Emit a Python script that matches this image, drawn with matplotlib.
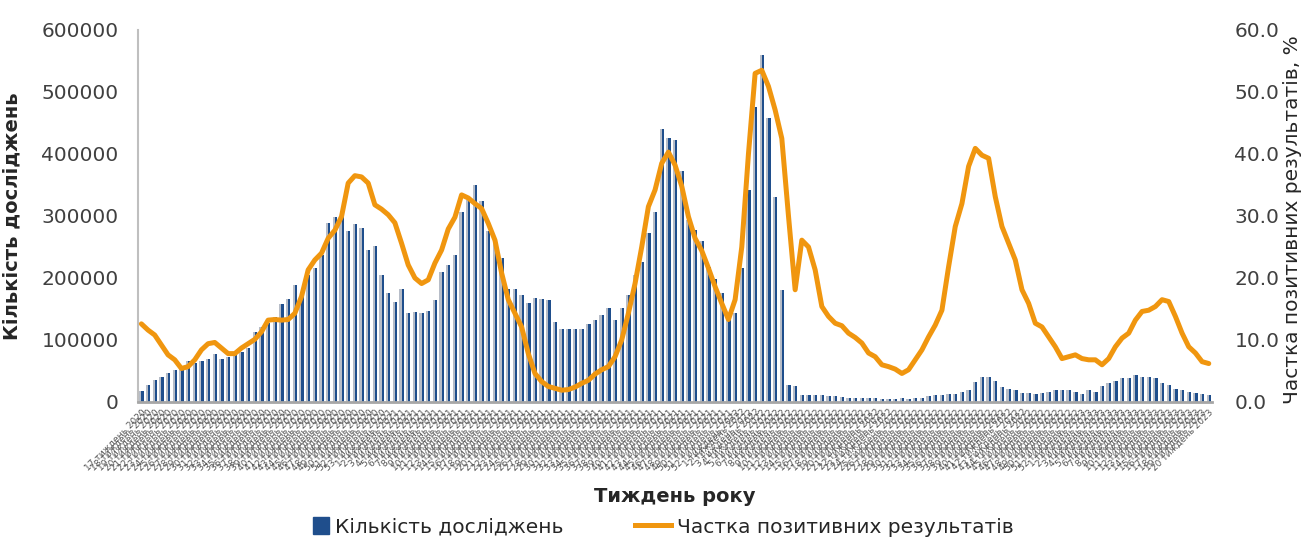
import matplotlib
matplotlib.use("Agg")
import matplotlib.pyplot as plt
import numpy as np
from matplotlib.lines import Line2D
from matplotlib.patches import Patch, Rectangle
from matplotlib.legend_handler import HandlerPatch

# weekly number of tests (bars, left axis)
tests = [
    17000, 28000, 35000, 41000, 47000, 52000, 57000, 66000, 63000, 66000,
    70000, 78000, 70000, 73000, 76000, 80000, 87000, 113000, 121000, 127000,
    137000, 158000, 166000, 189000, 171000, 205000, 216000, 237000, 288000, 298000,
    300000, 275000, 287000, 280000, 245000, 252000, 205000, 176000, 162000, 183000,
    144000, 145000, 144000, 146000, 164000, 209000, 221000, 237000, 306000, 325000,
    350000, 324000, 276000, 261000, 232000, 183000, 183000, 173000, 159000, 167000,
    166000, 165000, 129000, 118000, 118000, 118000, 118000, 126000, 133000, 140000,
    151000, 132000, 151000, 173000, 205000, 226000, 272000, 307000, 441000, 425000,
    423000, 372000, 294000, 277000, 259000, 218000, 198000, 176000, 138000, 143000,
    216000, 342000, 476000, 560000, 458000, 331000, 180000, 28000, 25000, 11000,
    11000, 11000, 10500, 10000, 9000, 8000, 7000, 7000, 6500, 6000,
    6000, 5400, 5400, 5400, 6000, 5400, 6500, 7000, 9000, 11000,
    11000, 13500, 13500, 16000, 20000, 33000, 40000, 41000, 34000, 24000,
    21500, 20000, 15000, 15000, 13500, 14500, 16000, 20000, 20000, 20000,
    16000, 13500, 20000, 16000, 25000, 30000, 34000, 38000, 38000, 43000,
    41000, 41000, 38000, 31000, 27000, 21500, 20000, 16000, 14500, 13500,
    12000,
]

# share of positive results, % (line, right axis)
positive_share = [
    12.6, 11.6, 10.8, 9.2, 7.6, 6.8, 5.4, 5.7, 6.8, 8.4,
    9.4, 9.6, 8.7, 7.8, 7.8, 8.7, 9.4, 10.1, 11.3, 13.2,
    13.3, 13.2, 13.3, 14.3, 17.0, 21.3, 22.9, 24.0, 26.4, 27.7,
    29.9, 35.3, 36.5, 36.3, 35.3, 31.8, 31.1, 30.2, 28.9, 25.6,
    22.1, 20.0, 19.1, 19.7, 22.4, 24.5, 27.9, 29.8, 33.4, 32.9,
    32.0, 31.2, 28.8, 26.1, 20.8, 16.5, 14.3, 12.1, 7.8, 4.6,
    3.3, 2.5, 2.2, 1.9, 2.0, 2.4, 3.0, 3.5, 4.5, 5.2,
    5.7, 7.3, 10.0, 14.3, 19.1, 25.0, 31.5, 34.2, 38.5, 40.3,
    38.2, 34.8, 29.9, 26.4, 24.4, 21.6, 18.6, 15.9, 13.3, 16.5,
    25.0, 40.0, 53.0, 53.5, 50.9, 47.1, 42.5, 30.0, 18.1, 26.1,
    25.0, 21.3, 15.4, 13.8, 12.7, 12.3, 11.1, 10.4, 9.5, 7.9,
    7.3, 6.0, 5.7, 5.3, 4.6, 5.2, 6.8, 8.4, 10.5, 12.4,
    14.8, 21.8, 28.3, 32.0, 38.0, 40.9, 39.8, 39.3, 33.1, 28.3,
    25.6, 22.9, 18.1, 15.9, 12.7, 12.1, 10.5, 8.9, 7.0, 7.3,
    7.6, 7.0, 6.8, 6.8, 6.0, 7.0, 8.9, 10.3, 11.1, 13.2,
    14.6, 14.8, 15.4, 16.5, 16.2, 13.8, 11.1, 8.9, 7.9, 6.5,
    6.2,
]

# week-of-year category labels
years = [2020, 2021, 2022, 2023]
weeks_in_year = {2020: 53, 2021: 52, 2022: 52, 2023: 52}
first_week = 17

week_labels = []
y, w = years[0], first_week
while len(week_labels) < len(tests):
    week_labels.append(f"{w} тиждень {y}")
    w += 1
    if w > weeks_in_year[y]:
        y, w = y + 1, 1

BLUE = "#1F4E8C"
GREY = "#B7BDC8"
ORANGE = "#F0960F"
TEXT = "#404040"

fig = plt.figure(figsize=(13.06, 5.4), dpi=100)
ax = fig.add_axes([0.1057, 0.2556, 0.8224, 0.6889])

x = np.arange(len(tests))
bw = 0.66
# two-tone bars: light left half, dark right half
ax.bar(x - bw / 4, tests, width=bw / 2, color=GREY, linewidth=0)
ax.bar(x + bw / 4, tests, width=bw / 2, color=BLUE, linewidth=0)

ax.set_xlim(-0.5, len(tests) - 0.5)
ax.set_ylim(0, 600000)
ax.set_yticks(np.arange(0, 600001, 100000))
ax.set_yticklabels([f"{v}" for v in range(0, 600001, 100000)])
ax.set_xticks(x)
ax.set_xticklabels(week_labels, rotation=45, ha="right", rotation_mode="anchor",
                   fontsize=6.5, color="#555555")
ax.tick_params(axis="y", length=0, pad=14, labelsize=14.5, labelcolor=TEXT)
ax.tick_params(axis="x", length=0, pad=4)

for side in ["top", "right"]:
    ax.spines[side].set_visible(False)
ax.spines["left"].set_color("#BFBFBF")
ax.spines["left"].set_linewidth(1.5)
ax.spines["bottom"].set_color("#A6A6A6")
ax.spines["bottom"].set_linewidth(2)

ax.set_ylabel("Кількість досліджень", fontsize=14, fontweight="bold", color="#262626")
ax.yaxis.set_label_coords(-0.109, 0.5)
ax.set_xlabel("Тиждень року", fontsize=14, fontweight="bold", color="#262626")
ax.xaxis.set_label_coords(0.5, -0.228)

ax2 = ax.twinx()
ax2.plot(x, positive_share, color=ORANGE, lw=3.6, solid_joinstyle="round",
         solid_capstyle="round")
ax2.set_ylim(0, 60)
ax2.set_yticks(np.arange(0, 61, 10))
ax2.set_yticklabels([f"{v:.1f}" for v in range(0, 61, 10)])
ax2.tick_params(axis="y", length=0, pad=16, labelsize=14.5, labelcolor=TEXT)
for side in ["top", "right", "left", "bottom"]:
    ax2.spines[side].set_visible(False)
ax2.set_ylabel("Частка позитивних результатів, %", fontsize=14.5, color="#262626")
ax2.yaxis.set_label_coords(1.066, 0.49)


def square_patch(legend, orig_handle, xdescent, ydescent, width, height, fontsize):
    side = height * 1.15
    return Rectangle((-xdescent + width - side, -ydescent + (height - side) / 2),
                     side, side)


handles = [Patch(color=BLUE), Line2D([], [], color=ORANGE, lw=3.6)]
labels = ["Кількість досліджень", "Частка позитивних результатів"]
fig.legend(handles, labels, loc="center", bbox_to_anchor=(0.5004, 0.024), ncol=2,
           frameon=False, fontsize=14.5, handlelength=1.8, handletextpad=0.3,
           columnspacing=3.55, labelcolor="#262626",
           handler_map={Patch: HandlerPatch(patch_func=square_patch)})

fig.savefig("out.png", dpi=100)
